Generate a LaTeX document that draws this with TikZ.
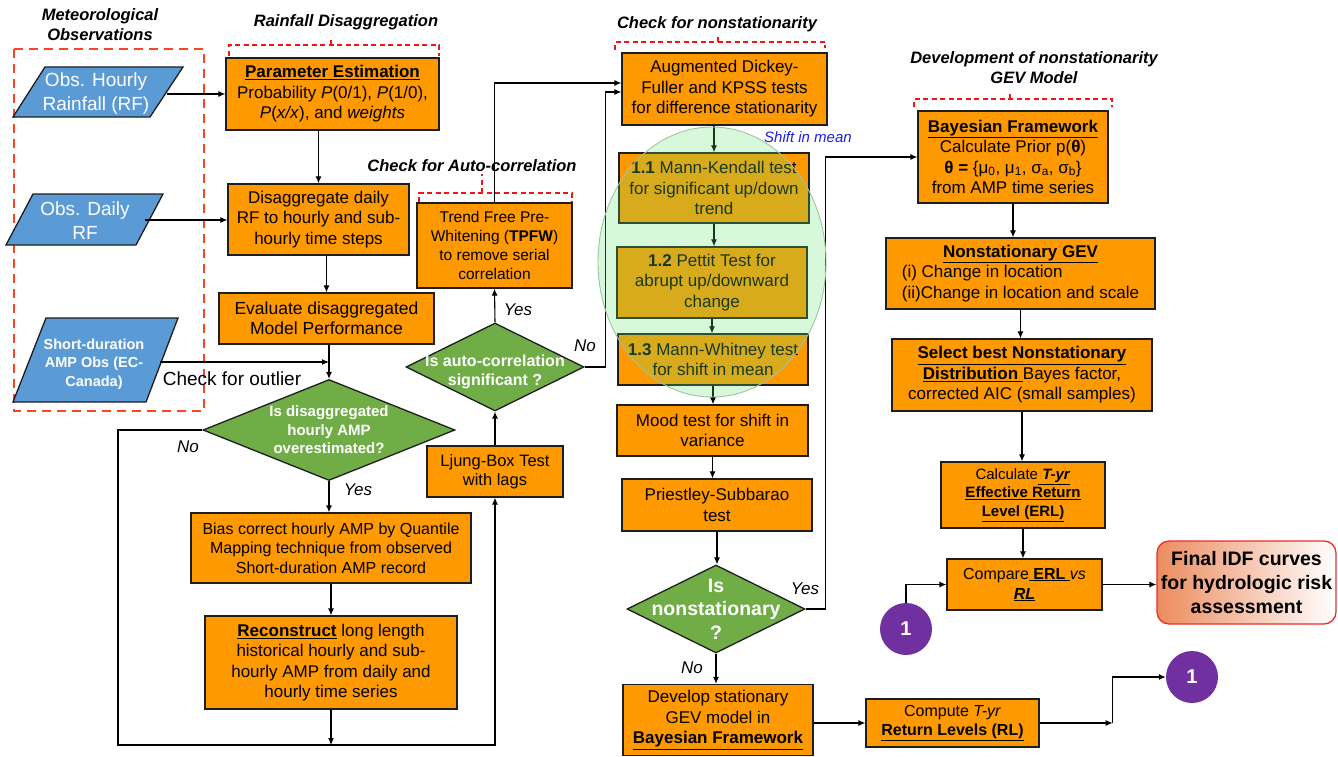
\documentclass[tikz,border=0pt]{standalone}
\usepackage{fontspec}
\setmainfont{Liberation Sans}
\usetikzlibrary{shapes.geometric,arrows.meta,calc}
\definecolor{boxor}{RGB}{255,153,0}
\definecolor{bordc}{RGB}{30,30,30}
\definecolor{parab}{RGB}{91,155,213}
\definecolor{dgreen}{RGB}{112,173,71}
\definecolor{purp}{RGB}{112,48,160}
\definecolor{metred}{RGB}{250,70,30}
\definecolor{brkred}{RGB}{245,20,20}
\definecolor{ellf}{RGB}{100,228,116}
\definecolor{ellc}{RGB}{160,195,160}
\definecolor{salm}{RGB}{236,140,95}
\definecolor{finred}{RGB}{235,45,45}
\definecolor{shiftblue}{RGB}{30,30,230}
\newcommand{\fs}[2]{\fontsize{#1}{#2}\selectfont}
\newcommand{\myul}[1]{\underline{#1}}
\begin{document}
\begin{tikzpicture}[x=1pt,y=-1pt,
  box/.style={draw=bordc,line width=1.3pt,fill=boxor,align=center,inner sep=2pt,font=\fs{17}{20.5}},
  dmd/.style={diamond,draw=bordc,line width=1.3pt,fill=dgreen,inner sep=0pt},
  dtxt/.style={text=white,font=\bfseries\fs{15}{18.5},align=center,inner sep=0pt},
  para/.style={draw=bordc,line width=1.3pt,fill=parab},
  ptxt/.style={text=white,font=\fs{19}{24},align=center,inner sep=0pt},
  ttl/.style={font=\bfseries\itshape\fs{16.5}{20},align=center,inner sep=0pt},
  lbl/.style={font=\itshape\fs{17}{20},inner sep=0pt},
  arr/.style={-{Latex[length=7pt,width=6pt]},line width=1.1pt,draw=black},
  ln/.style={line width=1.1pt,draw=black},
  brk/.style={draw=brkred,dash pattern=on 5pt off 3.5pt,line width=1.2pt},
  metbox/.style={draw=metred,dash pattern=on 9pt off 6pt,line width=2.5pt},
  circ/.style={circle,fill=purp,minimum size=52pt,text=white,font=\bfseries\fs{20}{24},inner sep=0pt},
  fin/.style={draw=finred,rounded corners=12pt,line width=1.3pt,left color=salm,middle color=white,right color=white,font=\bfseries\fs{19.5}{24},align=center,inner sep=2pt}
]
\fill[white] (0,0) rectangle (1338,757);
\useasboundingbox (0,0) rectangle (1338,757);

% titles
\node[ttl] (tmet) at (100,25) {Meteorological\\Observations};
\node[ttl] (train) at (346,22) {Rainfall Disaggregation};
\node[ttl] (tauto) at (472,166) {Check for Auto-correlation};
\node[ttl] (tns) at (717,24) {Check for nonstationarity};
\node[ttl] (tgev) at (1034,68) {Development of nonstationarity\\GEV Model};

% brackets
\draw[metbox] (14,49) rectangle (204,411);
\draw[brk] (229,56) -- (229,45) -- (439,45) -- (439,56);
\draw[brk] (331,45) -- (331,37);
\draw[brk] (419,202) -- (419,193) -- (572,193) -- (572,210);
\draw[brk] (482,193) -- (482,174);
\draw[brk] (615,50) -- (615,42) -- (825,42) -- (825,48);
\draw[brk] (718,42) -- (718,35);
\draw[brk] (914,107) -- (914,99) -- (1112,99) -- (1112,107);
\draw[brk] (1010,99) -- (1010,93);

% parallelograms
\draw[para] (45,67) -- (183,67) -- (150,117) -- (13,117) -- cycle;
\node[ptxt] (p1) at (96,94) {Obs. Hourly\\Rainfall (RF)};
\coordinate (p1r) at (166.5,94);
\draw[para] (33,194) -- (163,194) -- (136,245) -- (6,245) -- cycle;
\node[ptxt] (p2) at (85,221) {Obs. Daily\\RF};
\coordinate (p2r) at (145,220);
\draw[para] (46,318) -- (178,318) -- (146,402) -- (13,402) -- cycle;
\node[ptxt,font=\bfseries\fs{14.5}{18.3}] (p3) at (94,364) {Short-duration\\AMP Obs (EC-\\Canada)};
\coordinate (p3r) at (160,362);

% left column
\node[box,minimum width=213pt,minimum height=72pt] (pe) at (332.5,94) {\myul{\textbf{Parameter Estimation}}\\Probability \textit{P}(0/1), \textit{P}(1/0),\\\textit{P}(\textit{x/x}), and \textit{weights}};
\node[box,minimum width=181pt,minimum height=71pt] (dis) at (318.5,219.5) {Disaggregate daily\\RF to hourly and sub-\\hourly time steps};
\node[box,minimum width=215pt,minimum height=51pt,font=\fs{17.5}{20}] (ev) at (326.5,318.5) {Evaluate disaggregated\\Model Performance};
\node[dmd,minimum width=252pt,minimum height=101pt] (d1) at (329,430) {};
\node[dtxt] (d1t) at (d1) {Is disaggregated\\hourly AMP\\overestimated?};
\node[box,minimum width=280pt,minimum height=70pt,font=\fs{16}{19.5}] (bias) at (331,548) {Bias correct hourly AMP by Quantile\\Mapping technique from observed\\Short-duration AMP record};
\node[box,minimum width=252pt,minimum height=93pt] (rec) at (331,662.5) {\myul{\textbf{Reconstruct}} long length\\historical hourly and sub-\\hourly AMP from daily and\\hourly time series};

% auto-correlation column
\node[box,minimum width=136pt,minimum height=51pt,font=\fs{16.5}{19.5}] (lj) at (495,471.5) {Ljung-Box Test\\with lags};
\node[dmd,minimum width=178pt,minimum height=88pt] (d2) at (495,367) {};
\node[dtxt,font=\bfseries\fs{16}{19}] (d2t) at (495,372) {Is auto-correlation\\significant ?};
\node[box,minimum width=155pt,minimum height=85pt,font=\fs{15.5}{18.7}] (tp) at (494.5,245.5) {Trend Free Pre-\\Whitening (\textbf{TPFW})\\to remove serial\\correlation};

% nonstationarity column
\node[box,minimum width=205pt,minimum height=72pt] (adf) at (724.5,89) {Augmented Dickey-\\Fuller and KPSS tests\\for difference stationarity};
\node[box,minimum width=190pt,minimum height=70pt] (mk) at (714,188) {\textbf{1.1} Mann-Kendall test\\for significant up/down\\trend};
\node[box,minimum width=190pt,minimum height=71pt] (pt) at (712,282.5) {\textbf{1.2} Pettit Test for\\abrupt up/downward\\change};
\node[box,minimum width=190pt,minimum height=51pt] (mw) at (713,359.5) {\textbf{1.3} Mann-Whitney test\\for shift in mean};
\node[box,minimum width=191pt,minimum height=51pt] (mood) at (712.5,430.5) {Mood test for shift in\\variance};
\node[box,minimum width=190pt,minimum height=52pt] (ps) at (717,505) {Priestley-Subbarao\\test};
\node[dmd,minimum width=178pt,minimum height=88pt] (d3) at (716,609) {};
\node[dtxt,font=\bfseries\fs{19.5}{23.5}] (d3t) at (d3) {Is\\nonstationary\\?};
\node[box,minimum width=190pt,minimum height=71pt] (dev) at (718,720) {Develop stationary\\GEV model in\\\myul{\textbf{Bayesian Framework}}};
\node[box,minimum width=173pt,minimum height=48pt,font=\fs{16}{19}] (rl) at (952.5,723) {Compute \textit{T-yr}\\\myul{\textbf{Return Levels (RL)}}};
\node[lbl,font=\itshape\fs{15}{18},text=shiftblue] (shift) at (808,137) {Shift in mean};

% right column
\node[box,minimum width=190pt,minimum height=92pt] (bay) at (1013,157) {\myul{\textbf{Bayesian Framework}}\\Calculate Prior p(\textbf{θ})\\\textbf{θ =} \{μ\textsubscript{0}, μ\textsubscript{1}, σ\textsubscript{a}, σ\textsubscript{b}\}\\from AMP time series};
\node[box,minimum width=269pt,minimum height=71pt] (nsg) at (1020.5,273.5) {\begin{tabular}{@{}l@{}}\multicolumn{1}{@{}c@{}}{\myul{\textbf{Nonstationary GEV}}}\\(i) Change in location\\(ii)Change in location and scale\end{tabular}};
\node[box,minimum width=260pt,minimum height=72pt] (sel) at (1022,375) {\myul{\textbf{Select best Nonstationary}}\\\myul{\textbf{Distribution }}Bayes factor,\\corrected AIC (small samples)};
\node[box,minimum width=164pt,minimum height=66pt,font=\fs{15}{18.5}] (erl) at (1023,495) {Calculate\myul{ \textbf{\textit{T-yr}}}\\\myul{\textbf{Effective Return}}\\\myul{\textbf{Level (ERL)}}};
\node[box,minimum width=155pt,minimum height=51pt,font=\fs{16}{20}] (cmp) at (1024.5,584.5) {Compare\myul{ \textbf{ERL} }\textit{vs}\\\myul{\textbf{\textit{RL}}}};
\node[fin,minimum width=179pt,minimum height=83pt] (fin) at (1246.5,582.5) {Final IDF curves\\for hydrologic risk\\assessment};
\node[circ] (c1a) at (906,629) {1};
\node[circ] (c1b) at (1192,677) {1};

% labels
\node[lbl] (no1) at (188,447) {No};
\node[lbl] (yes1) at (358,490) {Yes};
\node[lbl] (yes2) at (518,310) {Yes};
\node[lbl] (no2) at (585,346) {No};
\node[lbl] (yes3) at (805,589) {Yes};
\node[lbl] (no3) at (692,668) {No};
\node[font=\fs{19}{22},inner sep=0pt] (outl) at (232,379) {Check for outlier};

% connectors left
\draw[arr] (p1r) -- (p1r -| pe.west);
\draw[arr] (p2r) -- (p2r -| dis.west);
\draw[arr] (pe.south -| dis.north) -- (dis.north);
\draw[arr] (dis.south -| ev.north) -- (ev.north);
\draw[arr] (ev.south -| d1.north) -- (d1.north);
\draw[arr] (p3r) -- (p3r -| d1.north);
\draw[arr] (d1.south) -- (d1.south |- bias.north);
\draw[arr] (bias.south) -- (bias.south |- rec.north);
\coordinate (loopL) at (118,745);
\path (lj.south |- loopL) coordinate (loopR);
\draw[arr] (d1.west) -- (d1.west -| loopL) -- (loopL) -- (loopR) -- (lj.south);
\draw[arr] (rec.south) -- (rec.south |- loopL);
\draw[arr] (lj.north) -- (d2.south);
\draw[arr] (d2.north) -- (tp.south);
\coordinate (in1) at ($(adf.west)+(0,-6)$);
\coordinate (in2) at ($(adf.west)+(0,3)$);
\draw[arr] (tp.north) |- (in1);
\draw[arr] (d2.east) -- ++(21,0) |- (in2);

% connectors middle
\draw[arr] (mk.north |- adf.south) -- (mk.north);
\draw[arr] (mk.south) -- (mk.south |- pt.north);
\draw[arr] (pt.south) -- (pt.south |- mw.north);
\draw[arr] (mw.south) -- (mw.south |- mood.north);
\draw[arr] (mood.south) -- (mood.south |- ps.north);
\draw[arr] (ps.south) -- (ps.south |- d3.north);
\draw[arr] (d3.south) -- (d3.south |- dev.north);
\draw[arr] (d3.east) -- ++(20,0) |- (bay.west);
\draw[arr] (rl.west -| dev.east) -- (rl.west);
\coordinate (rlc) at ($(rl.east)+(73,0)$);
\draw[arr] (rl.east) -- (rlc);
\draw[arr] (rlc) |- (c1b.west);

% connectors right
\draw[arr] (bay.south) -- (bay.south |- nsg.north);
\draw[arr] (nsg.south) -- (nsg.south |- sel.north);
\draw[arr] (sel.south) -- (sel.south |- erl.north);
\draw[arr] (erl.south) -- (erl.south |- cmp.north);
\draw[arr] (c1a.north) |- (cmp.west);
\draw[arr] (cmp.east) -- (cmp.east -| fin.west);

% translucent ellipse
\draw[draw=ellc,fill=ellf,fill opacity=0.25,line width=0.9pt] (712,262) ellipse [x radius=114pt,y radius=135pt];
\end{tikzpicture}
\end{document}
